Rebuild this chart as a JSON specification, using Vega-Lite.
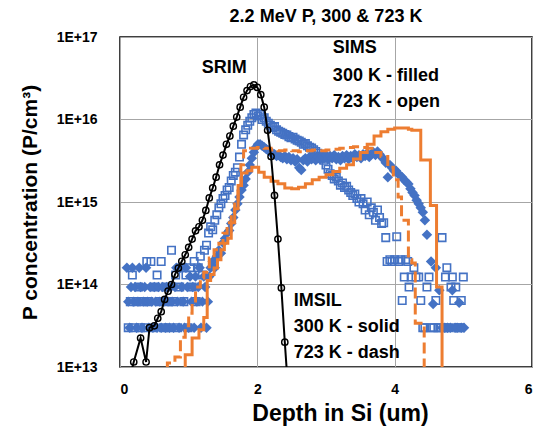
{
  "$schema": "https://vega.github.io/schema/vega-lite/v6.json",
  "width": 412,
  "height": 330,
  "autosize": {"type": "none"},
  "padding": {"left": 120, "top": 37, "right": 10, "bottom": 67},
  "background": "white",
  "config": {
    "font": "Liberation Sans",
    "view": {"stroke": "black", "strokeWidth": 1.5}
  },
  "title": {
    "text": "2.2 MeV P, 300 & 723 K",
    "fontSize": 18,
    "fontWeight": "bold",
    "font": "Liberation Sans",
    "color": "black",
    "anchor": "middle",
    "frame": "group",
    "offset": 4
  },
  "datasets": {
    "srim": [
      {"x": 0.15, "y": 7.9e12}, {"x": 0.2, "y": 1.15e13}, {"x": 0.3, "y": 2.24e13}, {"x": 0.38, "y": 1.15e13},
      {"x": 0.43, "y": 3.0e13}, {"x": 0.5, "y": 3.16e13}, {"x": 0.55, "y": 3.9e13}, {"x": 0.6, "y": 4.68e13},
      {"x": 0.65, "y": 6.6e13}, {"x": 0.7, "y": 8.3e13}, {"x": 0.75, "y": 1.0e14}, {"x": 0.8, "y": 1.32e14},
      {"x": 0.85, "y": 1.58e14}, {"x": 0.9, "y": 1.91e14}, {"x": 0.95, "y": 2.29e14}, {"x": 1.0, "y": 2.82e14},
      {"x": 1.05, "y": 3.55e14}, {"x": 1.1, "y": 4.47e14}, {"x": 1.15, "y": 5.0e14}, {"x": 1.2, "y": 6.0e14},
      {"x": 1.25, "y": 7.9e14}, {"x": 1.3, "y": 1.12e15}, {"x": 1.35, "y": 1.48e15}, {"x": 1.4, "y": 2.0e15},
      {"x": 1.45, "y": 2.82e15}, {"x": 1.5, "y": 3.7e15}, {"x": 1.55, "y": 5.0e15}, {"x": 1.6, "y": 6.3e15},
      {"x": 1.65, "y": 8.3e15}, {"x": 1.7, "y": 1.07e16}, {"x": 1.75, "y": 1.41e16}, {"x": 1.8, "y": 1.86e16},
      {"x": 1.85, "y": 2.24e16}, {"x": 1.9, "y": 2.51e16}, {"x": 1.95, "y": 2.63e16}, {"x": 2.0, "y": 2.45e16},
      {"x": 2.05, "y": 2.0e16}, {"x": 2.1, "y": 1.41e16}, {"x": 2.15, "y": 7.4e15}, {"x": 2.2, "y": 3.55e15},
      {"x": 2.25, "y": 1.2e15}, {"x": 2.3, "y": 3.55e14}, {"x": 2.35, "y": 9.1e13}, {"x": 2.4, "y": 2.0e13},
      {"x": 2.45, "y": 5.0e12}
    ],
    "imsil300": [
      {"x": 0.9, "y": 6.3e12}, {"x": 0.95, "y": 1.41e13}, {"x": 1.05, "y": 2.24e13}, {"x": 1.15, "y": 2.82e13},
      {"x": 1.22, "y": 3.98e13}, {"x": 1.27, "y": 1.12e14}, {"x": 1.32, "y": 1.32e14}, {"x": 1.37, "y": 1.58e14},
      {"x": 1.42, "y": 2.0e14}, {"x": 1.47, "y": 2.63e14}, {"x": 1.52, "y": 3.16e14}, {"x": 1.57, "y": 3.63e14},
      {"x": 1.62, "y": 5.6e14}, {"x": 1.67, "y": 8.3e14}, {"x": 1.72, "y": 1.58e15}, {"x": 1.77, "y": 2.24e15},
      {"x": 1.85, "y": 2.4e15}, {"x": 1.92, "y": 2.63e15}, {"x": 2.02, "y": 2.29e15}, {"x": 2.1, "y": 2.0e15},
      {"x": 2.2, "y": 1.78e15}, {"x": 2.3, "y": 1.66e15}, {"x": 2.4, "y": 1.48e15}, {"x": 2.5, "y": 1.45e15},
      {"x": 2.6, "y": 1.51e15}, {"x": 2.7, "y": 1.66e15}, {"x": 2.8, "y": 1.86e15}, {"x": 2.9, "y": 2.0e15},
      {"x": 3.0, "y": 2.14e15}, {"x": 3.1, "y": 2.34e15}, {"x": 3.2, "y": 2.57e15}, {"x": 3.3, "y": 2.82e15},
      {"x": 3.4, "y": 3.31e15}, {"x": 3.5, "y": 3.98e15}, {"x": 3.6, "y": 5.0e15}, {"x": 3.7, "y": 6.3e15},
      {"x": 3.8, "y": 7.1e15}, {"x": 3.9, "y": 7.6e15}, {"x": 4.0, "y": 7.9e15}, {"x": 4.1, "y": 7.9e15},
      {"x": 4.2, "y": 7.6e15}, {"x": 4.25, "y": 7.4e15}, {"x": 4.38, "y": 3.24e15}, {"x": 4.52, "y": 9.1e14},
      {"x": 4.61, "y": 9.3e13}, {"x": 4.69, "y": 5.0e12}, {"x": 4.8, "y": 5.0e12}
    ],
    "imsil723": [
      {"x": 0.65, "y": 6.3e12}, {"x": 0.69, "y": 1.12e13}, {"x": 0.8, "y": 1.32e13}, {"x": 0.88, "y": 2.29e13},
      {"x": 0.95, "y": 3.16e13}, {"x": 1.0, "y": 4.47e13}, {"x": 1.05, "y": 6.3e13}, {"x": 1.1, "y": 9.3e13},
      {"x": 1.17, "y": 1.2e14}, {"x": 1.22, "y": 1.41e14}, {"x": 1.3, "y": 2.09e14}, {"x": 1.37, "y": 2.63e14},
      {"x": 1.44, "y": 3.16e14}, {"x": 1.5, "y": 4.17e14}, {"x": 1.56, "y": 5.6e14}, {"x": 1.62, "y": 7.1e14},
      {"x": 1.67, "y": 1.05e15}, {"x": 1.72, "y": 1.58e15}, {"x": 1.76, "y": 2.82e15}, {"x": 1.8, "y": 4.17e15},
      {"x": 1.9, "y": 4.47e15}, {"x": 2.0, "y": 4.57e15}, {"x": 2.1, "y": 4.47e15}, {"x": 2.2, "y": 4.27e15},
      {"x": 2.3, "y": 4.17e15}, {"x": 2.4, "y": 4.27e15}, {"x": 2.5, "y": 4.17e15}, {"x": 2.6, "y": 4.07e15},
      {"x": 2.7, "y": 4.17e15}, {"x": 2.8, "y": 4.27e15}, {"x": 2.9, "y": 4.17e15}, {"x": 3.0, "y": 4.27e15},
      {"x": 3.1, "y": 4.37e15}, {"x": 3.2, "y": 4.47e15}, {"x": 3.3, "y": 4.57e15}, {"x": 3.4, "y": 4.68e15},
      {"x": 3.5, "y": 4.57e15}, {"x": 3.6, "y": 4.47e15}, {"x": 3.7, "y": 3.98e15}, {"x": 3.8, "y": 3.55e15},
      {"x": 3.9, "y": 2.63e15}, {"x": 3.98, "y": 1.86e15}, {"x": 4.05, "y": 1.15e15}, {"x": 4.1, "y": 6.0e14},
      {"x": 4.2, "y": 2.0e14}, {"x": 4.25, "y": 1.82e14}, {"x": 4.3, "y": 3.39e13}, {"x": 4.43, "y": 3.2e12},
      {"x": 4.5, "y": 3.2e12}
    ],
    "sims300": [
      {"x": 0.10, "y": 1.6e14}, {"x": 0.12, "y": 6.2e13}, {"x": 0.14, "y": 3.0e13}, {"x": 0.16, "y": 9.3e13},
      {"x": 0.18, "y": 1.6e14}, {"x": 0.20, "y": 6.2e13}, {"x": 0.22, "y": 9.3e13}, {"x": 0.24, "y": 3.0e13},
      {"x": 0.26, "y": 6.2e13}, {"x": 0.28, "y": 1.6e14}, {"x": 0.30, "y": 9.3e13}, {"x": 0.32, "y": 3.0e13},
      {"x": 0.34, "y": 6.2e13}, {"x": 0.36, "y": 9.3e13}, {"x": 0.38, "y": 1.6e14}, {"x": 0.40, "y": 6.2e13},
      {"x": 0.42, "y": 3.0e13}, {"x": 0.44, "y": 9.3e13}, {"x": 0.46, "y": 6.2e13}, {"x": 0.48, "y": 3.0e13},
      {"x": 0.50, "y": 9.3e13}, {"x": 0.52, "y": 6.2e13}, {"x": 0.54, "y": 3.0e13}, {"x": 0.56, "y": 9.3e13},
      {"x": 0.58, "y": 6.2e13}, {"x": 0.60, "y": 3.0e13}, {"x": 0.62, "y": 9.3e13}, {"x": 0.64, "y": 6.2e13},
      {"x": 0.66, "y": 3.0e13}, {"x": 0.68, "y": 9.3e13}, {"x": 0.70, "y": 6.2e13}, {"x": 0.72, "y": 3.0e13},
      {"x": 0.74, "y": 9.3e13}, {"x": 0.76, "y": 6.2e13}, {"x": 0.78, "y": 3.0e13}, {"x": 0.80, "y": 9.3e13},
      {"x": 0.82, "y": 1.6e14}, {"x": 0.84, "y": 6.2e13}, {"x": 0.86, "y": 3.0e13}, {"x": 0.88, "y": 1.6e14},
      {"x": 0.90, "y": 9.3e13}, {"x": 0.92, "y": 6.2e13}, {"x": 0.94, "y": 3.0e13}, {"x": 0.96, "y": 1.6e14},
      {"x": 0.98, "y": 9.3e13}, {"x": 1.00, "y": 3.0e13}, {"x": 1.02, "y": 1.25e14}, {"x": 1.04, "y": 6.2e13},
      {"x": 1.06, "y": 9.3e13}, {"x": 1.08, "y": 3.0e13}, {"x": 1.10, "y": 1.25e14}, {"x": 1.12, "y": 6.2e13},
      {"x": 1.14, "y": 9.3e13}, {"x": 1.16, "y": 1.6e14}, {"x": 1.18, "y": 3.0e13}, {"x": 1.20, "y": 6.2e13},
      {"x": 1.22, "y": 1.25e14}, {"x": 1.24, "y": 9.3e13}, {"x": 1.26, "y": 3.0e13}, {"x": 1.28, "y": 6.2e13},
      {"x": 1.30, "y": 1.25e14}, {"x": 1.32, "y": 1.6e14}, {"x": 1.35, "y": 1.9e14}, {"x": 1.38, "y": 1.6e14},
      {"x": 1.41, "y": 2.2e14}, {"x": 1.44, "y": 2.6e14}, {"x": 1.47, "y": 2.4e14}, {"x": 1.50, "y": 3.2e14},
      {"x": 1.53, "y": 3.6e14}, {"x": 1.56, "y": 4.2e14}, {"x": 1.59, "y": 4.5e14}, {"x": 1.62, "y": 5.5e14},
      {"x": 1.65, "y": 6.5e14}, {"x": 1.68, "y": 8.0e14}, {"x": 1.71, "y": 9.5e14}, {"x": 1.74, "y": 1.15e15},
      {"x": 1.77, "y": 1.4e15}, {"x": 1.80, "y": 1.6e15}, {"x": 1.83, "y": 1.9e15}, {"x": 1.86, "y": 2.3e15},
      {"x": 1.89, "y": 2.8e15}, {"x": 1.92, "y": 3.4e15}, {"x": 1.95, "y": 4.0e15}, {"x": 1.98, "y": 4.6e15},
      {"x": 2.01, "y": 5.0e15}, {"x": 2.04, "y": 5.0e15}, {"x": 2.07, "y": 4.8e15}, {"x": 2.10, "y": 4.6e15},
      {"x": 2.13, "y": 4.4e15}, {"x": 2.16, "y": 4.2e15}, {"x": 2.19, "y": 4.0e15}, {"x": 2.22, "y": 3.9e15},
      {"x": 2.25, "y": 3.8e15}, {"x": 2.28, "y": 3.6e15}, {"x": 2.31, "y": 3.7e15}, {"x": 2.34, "y": 3.5e15},
      {"x": 2.37, "y": 3.4e15}, {"x": 2.40, "y": 3.6e15}, {"x": 2.43, "y": 3.3e15}, {"x": 2.46, "y": 3.5e15},
      {"x": 2.49, "y": 3.2e15}, {"x": 2.52, "y": 3.4e15}, {"x": 2.55, "y": 3.1e15}, {"x": 2.58, "y": 3.3e15},
      {"x": 2.61, "y": 2.6e15}, {"x": 2.64, "y": 2.45e15}, {"x": 2.67, "y": 3.2e15}, {"x": 2.70, "y": 3.4e15},
      {"x": 2.73, "y": 3.1e15}, {"x": 2.76, "y": 3.5e15}, {"x": 2.79, "y": 3.3e15}, {"x": 2.82, "y": 3.6e15},
      {"x": 2.85, "y": 3.2e15}, {"x": 2.88, "y": 3.5e15}, {"x": 2.91, "y": 3.3e15}, {"x": 2.94, "y": 3.6e15},
      {"x": 2.97, "y": 3.4e15}, {"x": 3.00, "y": 3.7e15}, {"x": 3.03, "y": 3.3e15}, {"x": 3.06, "y": 3.6e15},
      {"x": 3.09, "y": 3.4e15}, {"x": 3.12, "y": 3.7e15}, {"x": 3.15, "y": 3.3e15}, {"x": 3.18, "y": 3.5e15},
      {"x": 3.21, "y": 3.2e15}, {"x": 3.24, "y": 3.6e15}, {"x": 3.27, "y": 3.4e15}, {"x": 3.30, "y": 3.7e15},
      {"x": 3.33, "y": 3.3e15}, {"x": 3.36, "y": 3.6e15}, {"x": 3.39, "y": 3.4e15}, {"x": 3.42, "y": 3.8e15},
      {"x": 3.45, "y": 3.5e15}, {"x": 3.48, "y": 3.7e15}, {"x": 3.51, "y": 3.4e15}, {"x": 3.54, "y": 3.8e15},
      {"x": 3.57, "y": 3.6e15}, {"x": 3.60, "y": 3.9e15}, {"x": 3.63, "y": 3.5e15}, {"x": 3.66, "y": 3.8e15},
      {"x": 3.69, "y": 4.0e15}, {"x": 3.72, "y": 3.7e15}, {"x": 3.75, "y": 4.1e15}, {"x": 3.78, "y": 3.8e15},
      {"x": 3.81, "y": 3.5e15}, {"x": 3.84, "y": 3.3e15}, {"x": 3.87, "y": 3.0e15}, {"x": 3.90, "y": 2.0e15},
      {"x": 3.93, "y": 2.8e15}, {"x": 3.96, "y": 2.6e15}, {"x": 3.99, "y": 2.4e15}, {"x": 4.02, "y": 2.4e15},
      {"x": 4.05, "y": 2.2e15}, {"x": 4.08, "y": 2.1e15}, {"x": 4.11, "y": 2.0e15}, {"x": 4.14, "y": 1.85e15},
      {"x": 4.17, "y": 1.75e15}, {"x": 4.20, "y": 1.65e15}, {"x": 4.23, "y": 1.45e15}, {"x": 4.26, "y": 1.3e15},
      {"x": 4.29, "y": 1.2e15}, {"x": 4.32, "y": 1.05e15}, {"x": 4.35, "y": 9.5e14}, {"x": 4.38, "y": 8.5e14},
      {"x": 4.41, "y": 7.5e14}, {"x": 4.44, "y": 6.0e14}, {"x": 4.47, "y": 4.0e14}, {"x": 4.53, "y": 1.9e14},
      {"x": 4.56, "y": 5.8e13}, {"x": 4.60, "y": 1.6e14}, {"x": 4.65, "y": 8.5e13}, {"x": 4.69, "y": 3.0e13},
      {"x": 4.73, "y": 3.0e13}, {"x": 4.77, "y": 3.0e13}, {"x": 4.81, "y": 3.0e13}, {"x": 4.84, "y": 8.5e13},
      {"x": 4.88, "y": 3.0e13}, {"x": 4.91, "y": 3.0e13}, {"x": 4.94, "y": 6.0e13}, {"x": 4.97, "y": 3.0e13},
      {"x": 5.01, "y": 3.0e13}
    ],
    "sims723": [
      {"x": 0.12, "y": 3.0e13}, {"x": 0.15, "y": 6.2e13}, {"x": 0.18, "y": 1.3e14}, {"x": 0.21, "y": 3.0e13},
      {"x": 0.24, "y": 6.2e13}, {"x": 0.27, "y": 9.3e13}, {"x": 0.30, "y": 3.0e13}, {"x": 0.33, "y": 6.2e13},
      {"x": 0.36, "y": 3.0e13}, {"x": 0.39, "y": 1.9e14}, {"x": 0.42, "y": 6.2e13}, {"x": 0.45, "y": 1.9e14},
      {"x": 0.48, "y": 3.0e13}, {"x": 0.51, "y": 9.3e13}, {"x": 0.54, "y": 1.3e14}, {"x": 0.57, "y": 6.2e13},
      {"x": 0.60, "y": 1.9e14}, {"x": 0.63, "y": 3.0e13}, {"x": 0.66, "y": 9.3e13}, {"x": 0.69, "y": 6.2e13},
      {"x": 0.72, "y": 3.0e13}, {"x": 0.75, "y": 2.6e14}, {"x": 0.78, "y": 6.2e13}, {"x": 0.81, "y": 1.3e14},
      {"x": 0.84, "y": 3.0e13}, {"x": 0.87, "y": 9.3e13}, {"x": 0.90, "y": 1.6e14}, {"x": 0.93, "y": 6.2e13},
      {"x": 0.96, "y": 1.3e14}, {"x": 0.99, "y": 3.0e13}, {"x": 1.02, "y": 1.6e14}, {"x": 1.05, "y": 9.3e13},
      {"x": 1.08, "y": 1.9e14}, {"x": 1.11, "y": 6.2e13}, {"x": 1.14, "y": 1.6e14}, {"x": 1.17, "y": 2.2e14},
      {"x": 1.20, "y": 1.3e14}, {"x": 1.23, "y": 2.6e14}, {"x": 1.26, "y": 3.0e14}, {"x": 1.29, "y": 4.2e14},
      {"x": 1.32, "y": 5.0e14}, {"x": 1.35, "y": 4.6e14}, {"x": 1.38, "y": 6.0e14}, {"x": 1.41, "y": 7.0e14},
      {"x": 1.44, "y": 8.5e14}, {"x": 1.47, "y": 9.5e14}, {"x": 1.50, "y": 1.1e15}, {"x": 1.53, "y": 1.2e15},
      {"x": 1.56, "y": 1.4e15}, {"x": 1.59, "y": 1.5e15}, {"x": 1.62, "y": 1.8e15}, {"x": 1.65, "y": 2.1e15},
      {"x": 1.68, "y": 2.3e15}, {"x": 1.71, "y": 2.6e15}, {"x": 1.74, "y": 3.5e15}, {"x": 1.77, "y": 5.0e15},
      {"x": 1.80, "y": 6.5e15}, {"x": 1.83, "y": 7.5e15}, {"x": 1.86, "y": 8.5e15}, {"x": 1.89, "y": 9.5e15},
      {"x": 1.92, "y": 1.05e16}, {"x": 1.95, "y": 1.15e16}, {"x": 1.98, "y": 1.2e16}, {"x": 2.01, "y": 1.1e16},
      {"x": 2.04, "y": 1.15e16}, {"x": 2.07, "y": 1.0e16}, {"x": 2.10, "y": 1.05e16}, {"x": 2.13, "y": 9.5e15},
      {"x": 2.16, "y": 9.0e15}, {"x": 2.19, "y": 8.5e15}, {"x": 2.22, "y": 8.0e15}, {"x": 2.25, "y": 8.2e15},
      {"x": 2.28, "y": 7.5e15}, {"x": 2.31, "y": 7.2e15}, {"x": 2.34, "y": 7.0e15}, {"x": 2.37, "y": 6.8e15},
      {"x": 2.40, "y": 6.6e15}, {"x": 2.43, "y": 6.5e15}, {"x": 2.46, "y": 6.2e15}, {"x": 2.49, "y": 6.0e15},
      {"x": 2.52, "y": 6.1e15}, {"x": 2.55, "y": 5.8e15}, {"x": 2.58, "y": 5.6e15}, {"x": 2.61, "y": 5.5e15},
      {"x": 2.64, "y": 5.3e15}, {"x": 2.67, "y": 5.0e15}, {"x": 2.70, "y": 5.1e15}, {"x": 2.73, "y": 4.8e15},
      {"x": 2.76, "y": 4.6e15}, {"x": 2.79, "y": 4.5e15}, {"x": 2.82, "y": 4.3e15}, {"x": 2.85, "y": 4.1e15},
      {"x": 2.88, "y": 3.9e15}, {"x": 2.91, "y": 3.6e15}, {"x": 2.94, "y": 3.4e15}, {"x": 2.97, "y": 3.2e15},
      {"x": 3.00, "y": 2.8e15}, {"x": 3.03, "y": 2.5e15}, {"x": 3.06, "y": 2.2e15}, {"x": 3.09, "y": 2.1e15},
      {"x": 3.12, "y": 1.9e15}, {"x": 3.15, "y": 2.0e15}, {"x": 3.18, "y": 1.8e15}, {"x": 3.21, "y": 1.6e15},
      {"x": 3.24, "y": 1.7e15}, {"x": 3.27, "y": 1.5e15}, {"x": 3.30, "y": 1.55e15}, {"x": 3.33, "y": 1.4e15},
      {"x": 3.36, "y": 1.3e15}, {"x": 3.39, "y": 1.2e15}, {"x": 3.42, "y": 1.25e15}, {"x": 3.45, "y": 1.1e15},
      {"x": 3.48, "y": 1.0e15}, {"x": 3.51, "y": 1.1e15}, {"x": 3.54, "y": 9.5e14}, {"x": 3.57, "y": 8.0e14},
      {"x": 3.60, "y": 1.0e15}, {"x": 3.63, "y": 7.0e14}, {"x": 3.66, "y": 8.5e14}, {"x": 3.69, "y": 7.5e14},
      {"x": 3.72, "y": 6.0e14}, {"x": 3.75, "y": 8.0e14}, {"x": 3.78, "y": 6.5e14}, {"x": 3.81, "y": 5.5e14},
      {"x": 3.84, "y": 5.6e14}, {"x": 3.87, "y": 3.7e14}, {"x": 3.89, "y": 1.9e14}, {"x": 3.93, "y": 2.0e14},
      {"x": 3.96, "y": 1.9e14}, {"x": 4.00, "y": 2.0e14}, {"x": 4.03, "y": 3.8e14}, {"x": 4.06, "y": 1.9e14},
      {"x": 4.09, "y": 2.0e14}, {"x": 4.11, "y": 6.4e13}, {"x": 4.14, "y": 1.23e14}, {"x": 4.16, "y": 2.0e14},
      {"x": 4.19, "y": 1.9e14}, {"x": 4.21, "y": 9.3e13}, {"x": 4.24, "y": 1.23e14}, {"x": 4.28, "y": 1.6e14},
      {"x": 4.31, "y": 1.23e14}, {"x": 4.35, "y": 1.23e14}, {"x": 4.38, "y": 6.4e13}, {"x": 4.41, "y": 3.0e13},
      {"x": 4.44, "y": 3.0e13}, {"x": 4.47, "y": 9.3e13}, {"x": 4.50, "y": 1.23e14}, {"x": 4.53, "y": 3.0e13},
      {"x": 4.57, "y": 3.0e13}, {"x": 4.60, "y": 6.4e13}, {"x": 4.63, "y": 3.0e13}, {"x": 4.66, "y": 3.0e13},
      {"x": 4.69, "y": 3.7e14}, {"x": 4.72, "y": 3.0e13}, {"x": 4.74, "y": 1.23e14}, {"x": 4.76, "y": 1.6e14},
      {"x": 4.79, "y": 3.0e13}, {"x": 4.82, "y": 9.3e13}, {"x": 4.84, "y": 1.23e14}, {"x": 4.86, "y": 6.4e13},
      {"x": 4.89, "y": 9.3e13}, {"x": 4.92, "y": 3.0e13}, {"x": 4.95, "y": 3.0e13}, {"x": 4.97, "y": 6.4e13},
      {"x": 5.00, "y": 1.23e14}
    ],
    "notes": [
      {"x": 1.19, "y": 4.2e16, "t": "SRIM"},
      {"x": 3.1, "y": 7.4e16, "t": "SIMS"},
      {"x": 3.1, "y": 3.37e16, "t": "300 K - filled"},
      {"x": 3.1, "y": 1.63e16, "t": "723 K - open"},
      {"x": 2.53, "y": 6.3e13, "t": "IMSIL"},
      {"x": 2.53, "y": 3.05e13, "t": "300 K - solid"},
      {"x": 2.53, "y": 1.48e13, "t": "723 K - dash"}
    ]
  },
  "encoding": {
    "x": {
      "field": "x",
      "type": "quantitative",
      "scale": {"domain": [0, 6], "nice": false, "zero": false},
      "axis": {
        "values": [0, 2, 4, 6],
        "title": "Depth in Si (um)",
        "titleFontSize": 23,
        "titleFontWeight": "bold",
        "titleColor": "black",
        "titlePadding": 6,
        "titleX": 220,
        "labelFontSize": 14,
        "labelFontWeight": "bold",
        "labelColor": "black",
        "labelPadding": 15,
        "ticks": false,
        "domain": false,
        "grid": true,
        "gridColor": "#a6a6a6",
        "gridWidth": 1
      }
    },
    "y": {
      "field": "y",
      "type": "quantitative",
      "scale": {"type": "log", "domain": [1e13, 1e17], "nice": false},
      "axis": {
        "values": [1e13, 1e14, 1e15, 1e16, 1e17],
        "labelExpr": "'1E+' + round(log(datum.value) / LN10)",
        "title": "P concentration (P/cm³)",
        "titleFontSize": 21,
        "titleFontWeight": "bold",
        "titleColor": "black",
        "titlePadding": 16,
        "labelFontSize": 14,
        "labelFontWeight": "bold",
        "labelColor": "black",
        "labelPadding": 23,
        "ticks": false,
        "domain": false,
        "grid": true,
        "gridColor": "#a6a6a6",
        "gridWidth": 1
      }
    }
  },
  "layer": [
    {
      "data": {"name": "sims723"},
      "mark": {"type": "point", "shape": "square", "filled": false, "stroke": "#4472C4", "strokeWidth": 1.6, "size": 55, "opacity": 1, "clip": true}
    },
    {
      "data": {"name": "sims300"},
      "mark": {"type": "point", "shape": "diamond", "filled": true, "fill": "#4472C4", "size": 110, "opacity": 1, "clip": true}
    },
    {
      "data": {"name": "imsil723"},
      "mark": {"type": "line", "interpolate": "step-after", "stroke": "#ED7D31", "strokeWidth": 3, "strokeDash": [11, 5], "clip": true}
    },
    {
      "data": {"name": "imsil300"},
      "mark": {"type": "line", "interpolate": "step-after", "stroke": "#ED7D31", "strokeWidth": 3, "clip": true}
    },
    {
      "data": {"name": "srim"},
      "mark": {"type": "line", "stroke": "black", "strokeWidth": 2, "clip": true}
    },
    {
      "data": {"name": "srim"},
      "mark": {"type": "point", "shape": "circle", "filled": false, "stroke": "black", "strokeWidth": 1.4, "size": 40, "opacity": 1, "clip": true}
    },
    {
      "data": {"name": "notes"},
      "mark": {"type": "text", "align": "left", "baseline": "middle", "fontSize": 18, "fontWeight": "bold", "font": "Liberation Sans", "color": "black"},
      "encoding": {"text": {"field": "t", "type": "nominal"}}
    }
  ]
}
